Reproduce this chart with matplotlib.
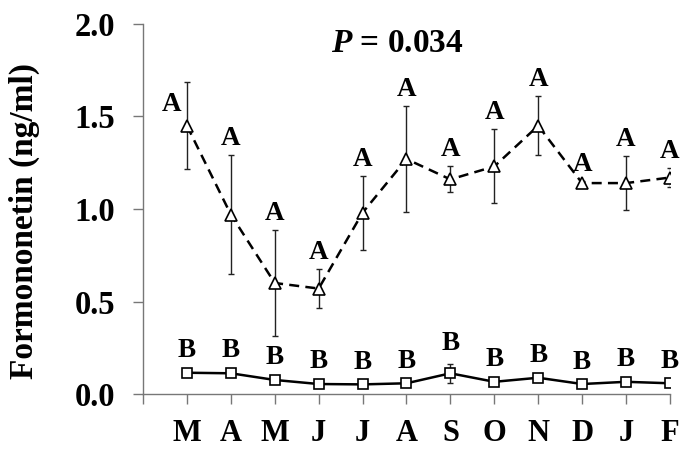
import matplotlib
matplotlib.use('Agg')
import matplotlib.pyplot as plt
import numpy as np

plt.rcParams['font.family'] = 'Liberation Serif'
plt.rcParams['font.weight'] = 'bold'
plt.rcParams['mathtext.fontset'] = 'custom'
plt.rcParams['mathtext.it'] = 'Liberation Serif:italic:bold'

# monthly formononetin concentrations (ng/ml)
months = ['M', 'A', 'M', 'J', 'J', 'A', 'S', 'O', 'N', 'D', 'J', 'F']
high = [1.45, 0.97, 0.60, 0.57, 0.98, 1.27, 1.16, 1.23, 1.45, 1.14, 1.14, 1.17]
high_err = [0.235, 0.32, 0.285, 0.105, 0.20, 0.285, 0.07, 0.20, 0.16, 0.01, 0.145, 0.05]
low = [0.115, 0.112, 0.076, 0.054, 0.052, 0.058, 0.112, 0.066, 0.088, 0.054, 0.066, 0.058]
low_err = [0.01, 0.01, 0.01, 0.01, 0.005, 0.005, 0.05, 0.01, 0.01, 0.005, 0.01, 0.005]
high_letters = ['A'] * 12
low_letters = ['B'] * 12
p_text = r'$P$ = 0.034'

x = np.arange(1, len(months) + 1)

fig = plt.figure(figsize=(6.85, 4.61), dpi=100)
ax = fig.add_axes([0.2088, 0.1453, 0.7692, 0.8027])

ax.errorbar(x, high, yerr=high_err, fmt='none', ecolor='#222222', elinewidth=1.0,
            capsize=2.5, capthick=1.0, zorder=2)
ax.plot(x, high, '--', color='black', lw=1.8, dashes=(4, 2.5),
        marker='^', ms=8, mfc='white', mec='black', mew=1.2, zorder=3)

ax.errorbar(x, low, yerr=low_err, fmt='none', ecolor='#222222', elinewidth=1.0,
            capsize=2.5, capthick=1.0, zorder=2)
ax.plot(x, low, '-', color='black', lw=1.8,
        marker='s', ms=7, mfc='white', mec='black', mew=1.2, zorder=3)

# significance letters above each month
for i in range(len(months)):
    if i == 0:
        # first label sits beside its error bar
        ax.annotate(high_letters[i], (x[i], high[i]), xytext=(-11, 15),
                    textcoords='offset points', ha='center', va='center',
                    fontsize=19.5, fontweight='bold')
    else:
        ax.annotate(high_letters[i], (x[i], high[i] + high_err[i]), xytext=(0, 12),
                    textcoords='offset points', ha='center', va='center',
                    fontsize=19.5, fontweight='bold')
    ax.annotate(low_letters[i], (x[i], low[i] + low_err[i]), xytext=(0, 15),
                textcoords='offset points', ha='center', va='center',
                fontsize=19.5, fontweight='bold')

ax.text(5.8, 1.897, p_text, ha='center', va='center', fontsize=24, fontweight='bold')

ax.set_xlim(0, 12)
ax.set_ylim(0, 2.0)
ax.set_xticks(np.arange(0, 13))
ax.set_xticklabels([''] + months)
ax.set_yticks([0.0, 0.5, 1.0, 1.5, 2.0])
ax.set_yticklabels(['0.0', '0.5', '1.0', '1.5', '2.0'])

for s in ['top', 'right']:
    ax.spines[s].set_visible(False)
for s in ['left', 'bottom']:
    ax.spines[s].set_color('#777777')
    ax.spines[s].set_linewidth(1.0)

ax.tick_params(axis='y', direction='out', length=7, width=1, color='#777777',
               labelsize=23.5, pad=13)
ax.tick_params(axis='x', direction='out', length=7, width=1, color='#777777',
               labelsize=22, pad=11)
for lab in ax.get_xticklabels() + ax.get_yticklabels():
    lab.set_fontweight('bold')

fig.text(24 / 685, 1 - 221 / 461, 'Formononetin (ng/ml)', rotation=90,
         ha='center', va='center', fontsize=24, fontweight='bold')

fig.savefig('out.png', dpi=100)
